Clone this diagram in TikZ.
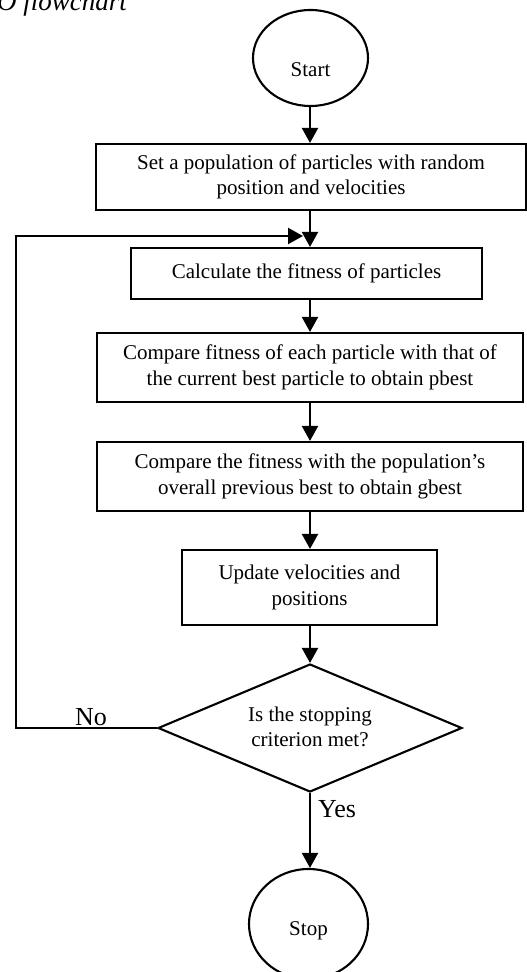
\documentclass[tikz,border=0pt]{standalone}
\usepackage{fontspec}
\setmainfont{Liberation Serif}
\usetikzlibrary{shapes.geometric,arrows.meta}
\begin{document}
\begin{tikzpicture}[x=1pt,y=-1pt,
  box/.style={draw,line width=2.1pt,inner sep=0pt,align=center,font=\fontsize{21}{25.5}\selectfont},
  oval/.style={draw,line width=2.1pt,ellipse,inner sep=0pt},
  lbl/.style={font=\fontsize{21}{25.5}\selectfont,align=center,inner sep=0pt},
  yn/.style={font=\fontsize{26}{30}\selectfont,inner sep=0pt,anchor=base west},
  flow/.style={line width=2.1pt,-{Triangle[length=15pt,width=16pt]}}]
\useasboundingbox (0,0) rectangle (527,972);
\node[font=\fontsize{27}{30}\selectfont\itshape,anchor=base west,inner sep=0pt] (title) at (-3,10.5) {O flowchart};
\coordinate (ax) at (310,0);
\node[oval,minimum width=115pt,minimum height=96pt] (start) at (310.5,58) {};
\node[lbl] (starttxt) at (310.5,70) {Start};
\node[box,minimum width=430pt,minimum height=66pt] (b1) at (311,177) {Set a population of particles with random\\position and velocities};
\node[box,minimum width=351pt,minimum height=51pt] (b2) at (306.5,273.5) {Calculate the fitness of particles};
\node[box,minimum width=426pt,minimum height=69pt] (b3) at (310,367.5) {Compare fitness of each particle with that of\\the current best particle to obtain pbest};
\node[box,minimum width=426pt,minimum height=69pt] (b4) at (310,476.5) {Compare the fitness with the population's\\overall previous best to obtain gbest};
\node[box,minimum width=255pt,minimum height=75pt] (b5) at (309.5,587.5) {Update velocities and\\positions};
\node[draw,diamond,line width=2.1pt,minimum width=304pt,minimum height=128pt,inner sep=0pt] (d) at (310,728) {};
\node[lbl] (dtxt) at (310,727) {Is the stopping\\criterion met?};
\node[oval,minimum width=119pt,minimum height=110pt] (stop) at (308.5,924) {};
\node[lbl] (stoptxt) at (308.5,931) {Stop};
\draw[flow] (start.south -| ax) -- (b1.north -| ax);
\draw[flow] (b1.south -| ax) -- (b2.north -| ax);
\draw[flow] (b2.south -| ax) -- (b3.north -| ax);
\draw[flow] (b3.south -| ax) -- (b4.north -| ax);
\draw[flow] (b4.south -| ax) -- (b5.north -| ax);
\draw[flow] (b5.south -| ax) -- (d.north);
\draw[flow] (d.south) -- (d.south |- stop.north);
\coordinate (ltop) at (16,236);
\coordinate (lend) at (303,236);
\draw[flow] (d.west) -| (ltop) -- (lend);
\node[yn] (no) at (75,725) {No};
\node[yn] (yes) at (318,817) {Yes};
\end{tikzpicture}
\end{document}
